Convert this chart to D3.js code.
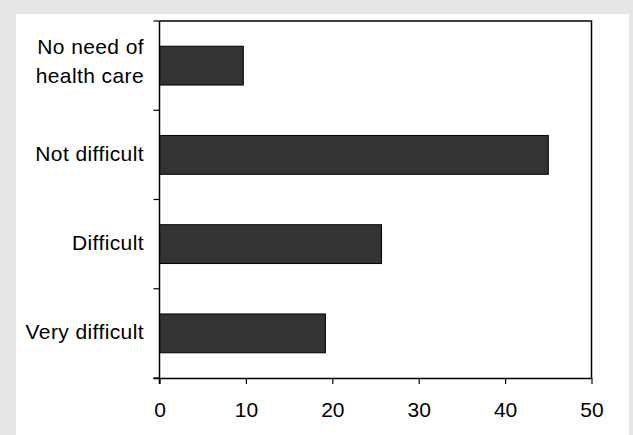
<!DOCTYPE html>
<html>
<head>
<meta charset="utf-8">
<script src="https://cdn.jsdelivr.net/npm/d3@7"></script>
<style>
  html, body { margin: 0; padding: 0; background: #e6e6e6; }
  svg { display: block; }
  text { font-family: "Liberation Sans", Arial, sans-serif; fill: #000; }
</style>
</head>
<body>
<svg id="chart" width="633" height="435"></svg>
<script>
// Categories, top to bottom, each label split into its display lines
const categories = ["No need of health care", "Not difficult", "Difficult", "Very difficult"];
const categoryLines = [["No need of", "health care"], ["Not difficult"], ["Difficult"], ["Very difficult"]];
// Share of respondents (%)
const values = [9.7, 45.0, 25.7, 19.2];
// X axis tick labels
const xTicks = [0, 10, 20, 30, 40, 50];

const svg = d3.select("#chart");
const W = 633, H = 435;

// White card on grey page
svg.append("rect").attr("x", 16).attr("y", 14).attr("width", 613).attr("height", H - 14).attr("fill", "#fff");

const plot = { left: 159.5, right: 591.5, top: 21, bottom: 378 };

const x = d3.scaleLinear().domain([0, 50]).range([plot.left, plot.right]);
const y = d3.scaleBand().domain(categories).range([plot.top, plot.bottom]).paddingInner(0.565).paddingOuter(0.2825);

// Bars
svg.append("g").selectAll("rect").data(values).join("rect")
  .attr("x", x(0))
  .attr("y", (d, i) => y(categories[i]))
  .attr("width", d => x(d) - x(0))
  .attr("height", y.bandwidth())
  .attr("fill", "#333333")
  .attr("stroke", "#000")
  .attr("stroke-width", 1);

// Plot frame (top and right)
svg.append("path")
  .attr("d", `M${plot.left},${plot.top}H${plot.right}V${plot.bottom}`)
  .attr("fill", "none").attr("stroke", "#000").attr("stroke-width", 1.5);

// X axis
const xAxis = svg.append("g").attr("transform", `translate(0,${plot.bottom})`)
  .call(d3.axisBottom(x).tickValues(xTicks).tickSize(6).tickPadding(18).tickSizeOuter(0));
xAxis.select(".domain").attr("stroke-width", 1.5).attr("d", `M${plot.left - 6},0.5H${plot.right}`);
xAxis.selectAll(".tick line").attr("stroke-width", 1.2);
xAxis.selectAll(".tick text").attr("font-size", 21).attr("font-family", "Liberation Sans, Arial, sans-serif").attr("fill", "#000");

// Y axis: ticks at category boundaries
const boundaries = d3.range(categories.length + 1).map(i => plot.top + i * (plot.bottom - plot.top) / categories.length);
svg.append("line").attr("x1", plot.left).attr("x2", plot.left).attr("y1", plot.top).attr("y2", plot.bottom + 6)
  .attr("stroke", "#000").attr("stroke-width", 1.5);
svg.append("g").selectAll("line").data(boundaries).join("line")
  .attr("x1", plot.left - 6).attr("x2", plot.left)
  .attr("y1", d => d).attr("y2", d => d)
  .attr("stroke", "#000").attr("stroke-width", 1.2);

// Category labels
const labels = svg.append("g").selectAll("text").data(categoryLines).join("text")
  .attr("text-anchor", "end")
  .attr("font-size", 21)
  .attr("letter-spacing", 0.4)
  .attr("x", 144)
  .attr("y", (d, i) => y(categories[i]) + y.bandwidth() / 2 + 6 - (d.length - 1) * 17.5);
labels.selectAll("tspan").data(d => d).join("tspan")
  .attr("x", 144)
  .attr("dy", (d, i) => i === 0 ? 0 : 29)
  .text(d => d);
</script>
</body>
</html>
